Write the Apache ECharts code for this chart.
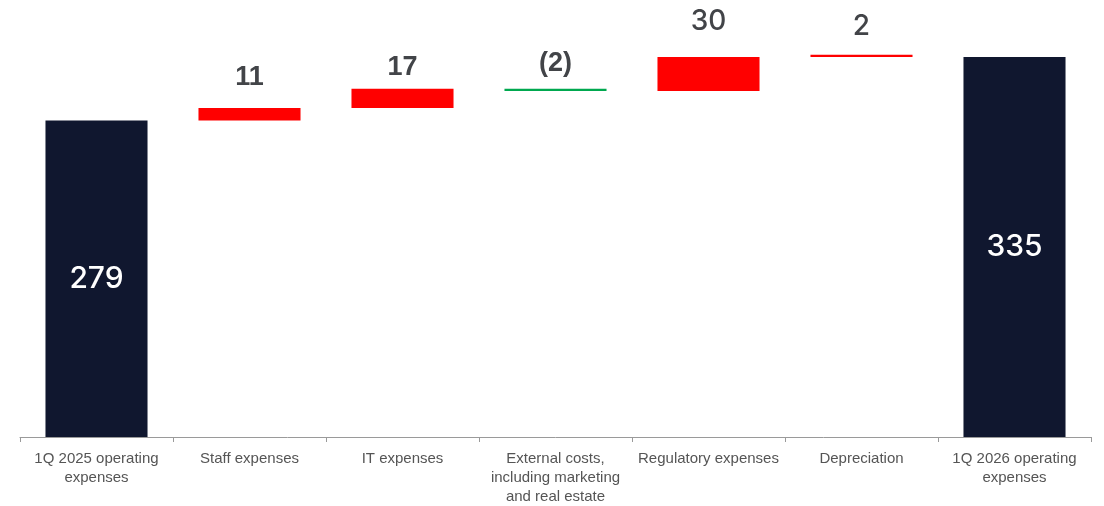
<!DOCTYPE html>
<html>
<head>
<meta charset="utf-8">
<script src="https://cdn.jsdelivr.net/npm/echarts@6/dist/echarts.min.js"></script>
<style>
  html, body { margin: 0; padding: 0; background: #ffffff; }
  #chart { width: 1104px; height: 506px; }
</style>
</head>
<body>
<div id="chart"></div>
<script>
// Operating expenses bridge, 1Q 2025 -> 1Q 2026
const categories = [
  '1Q 2025 operating\nexpenses',
  'Staff expenses',
  'IT expenses',
  'External costs,\nincluding marketing\nand real estate',
  'Regulatory expenses',
  'Depreciation',
  '1Q 2026 operating\nexpenses'
];
const startTotal = 279;
const changes = [11, 17, -2, 30, 2];
const endTotal = 335;

const NAVY = '#10172f';
const RED = '#ff0000';
const GREEN = '#00a84f';

// Label gap above each change bar
const labelGap = [17, 8, 12, 21, 14];
const labelFamily = ['bold', 'bold', 'bold', 'light', 'light'];

const fmt = v => v < 0 ? '(' + Math.abs(v) + ')' : String(v);

const totalLabel = text => ({
  show: true, position: 'inside', color: '#ffffff',
  fontFamily: 'Inter', fontWeight: 500, fontSize: 30,
  formatter: text
});

// Build the invisible base and visible segments from running totals
const baseData = [0];
const visData = [{
  value: startTotal,
  itemStyle: { color: NAVY },
  label: totalLabel(String(startTotal))
}];
let running = startTotal;
changes.forEach((c, i) => {
  const lo = c >= 0 ? running : running + c;
  baseData.push(lo);
  const bold = labelFamily[i] === 'bold';
  visData.push({
    value: Math.abs(c),
    itemStyle: { color: c >= 0 ? RED : GREEN },
    label: {
      show: true, position: 'top', distance: labelGap[i],
      color: '#424448',
      fontFamily: bold ? 'Liberation Sans' : 'Inter',
      fontWeight: bold ? 'bold' : 500,
      fontSize: bold ? 27 : 28,
      formatter: fmt(c)
    }
  });
  running += c;
});
baseData.push(0);
visData.push({
  value: endTotal,
  itemStyle: { color: NAVY },
  label: totalLabel(String(endTotal))
});

const chart = echarts.init(document.getElementById('chart'), null, { renderer: 'canvas' });
chart.setOption({
  animation: false,
  backgroundColor: '#ffffff',
  grid: { left: 20, right: 13, top: 6, bottom: 68, containLabel: false },
  xAxis: {
    type: 'category',
    data: categories,
    boundaryGap: true,
    axisLine: { show: true, lineStyle: { color: '#9a9a9a', width: 1 } },
    axisTick: { show: true, alignWithLabel: false, length: 5, lineStyle: { color: '#9a9a9a' } },
    axisLabel: {
      interval: 0, margin: 12, color: '#555555',
      fontFamily: 'Liberation Sans', fontSize: 15, lineHeight: 19
    }
  },
  yAxis: {
    type: 'value', min: 0, max: 380,
    show: false, splitLine: { show: false }
  },
  series: [
    {
      type: 'bar', stack: 'bridge', barWidth: '66.7%',
      itemStyle: { color: 'transparent' },
      emphasis: { disabled: true },
      data: baseData
    },
    {
      type: 'bar', stack: 'bridge', barWidth: '66.7%',
      emphasis: { disabled: true },
      data: visData
    }
  ]
});
</script>
</body>
</html>
